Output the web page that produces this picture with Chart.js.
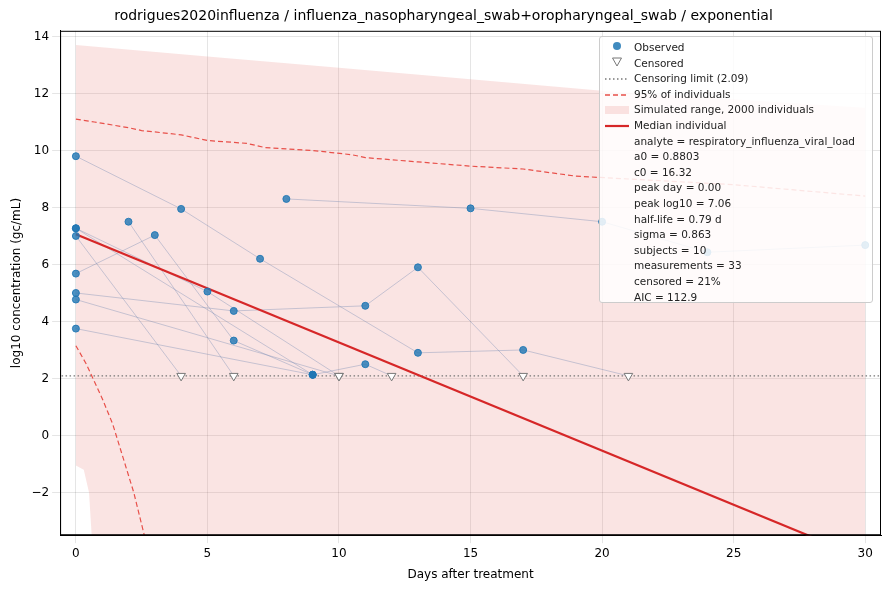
<!DOCTYPE html>
<html>
<head>
<meta charset="utf-8">
<script src="https://cdn.jsdelivr.net/npm/chart.js@4"></script>
<style>
  body { margin: 0; background: #fff; font-family: "DejaVu Sans", sans-serif; }
  #wrap { position: relative; width: 889px; height: 590px; }
  #legend { position: absolute; left: 599px; top: 36px; width: 274px; height: 267px; background: rgba(255,255,255,0.85);
    border: 1px solid #ccc; border-radius: 3px; font-size: 10.5px; color: #222; box-sizing: border-box; padding: 3px 0 0 0; }
  #legend div { height: 15.6px; line-height: 15.6px; white-space: nowrap; }
  #legend .k { display: inline-block; width: 34px; text-align: center; vertical-align: middle; }
</style>
</head>
<body>
<div id="wrap">
<canvas id="chart" width="889" height="590"></canvas>
<div id="legend"></div>
</div>
<script>
// subjects: [day, log10, censored]
const subjects = [
  [[0, 9.8], [4, 7.95], [7, 6.2], [13, 2.9], [17, 3.0], [21, 2.09, 1]],
  [[8, 8.3], [15, 7.97], [20, 7.5], [24, 6.43], [30, 6.68]],
  [[2, 7.5], [6, 2.09, 1]],
  [[0, 5.68], [3, 7.03], [6, 3.33], [9, 2.13]],
  [[0, 7.27], [5, 5.05], [10, 2.09, 1]],
  [[0, 7.27], [9, 2.13], [11, 2.5], [12, 2.09, 1]],
  [[0, 7.0], [4, 2.09, 1]],
  [[0, 5.0], [6, 4.37], [11, 4.55], [13, 5.9], [17, 2.09, 1]],
  [[0, 4.77], [10, 2.09, 1]],
  [[0, 3.75], [9, 2.13]]
];
const censorLimit = 2.09;
const medianDays = [0, 30];
const medianVals = [7.06, -4.33];
const upperDays = [0, 0.7, 2, 2.5, 4, 5, 6.5, 7.2, 9, 10.5, 11, 13, 15, 17, 19, 21, 25, 30];
const upperVals = [11.1, 11.0, 10.8, 10.7, 10.55, 10.35, 10.25, 10.1, 10.0, 9.85, 9.75, 9.6, 9.45, 9.35, 9.1, 9.0, 8.8, 8.4];
const lowerDays = [0, 0.4, 1, 1.4, 1.7, 2.2, 2.6];
const lowerVals = [3.15, 2.5, 1.3, 0.4, -0.5, -2.0, -3.5];
const simTopDays = [0, 5, 10, 15, 20, 25, 30];
const simTopVals = [13.7, 13.3, 12.9, 12.5, 12.1, 11.8, 11.5];
const simBotDays = [0, 0.3, 0.5, 0.6, 0.65, 30];
const simBotVals = [-1.05, -1.2, -2.0, -3.5, -10, -10];

const xy = (d, v) => d.map((x, i) => ({x, y: v[i]}));
const observed = [], censored = [];
subjects.forEach(s => s.forEach(p => (p[2] ? censored : observed).push({x: p[0], y: p[1]})));

const datasets = [];
datasets.push({type: 'line', data: xy(simBotDays, simBotVals), borderWidth: 0, pointRadius: 0, fill: false, order: 10});
datasets.push({type: 'line', data: xy(simTopDays, simTopVals), borderWidth: 0, pointRadius: 0,
  backgroundColor: 'rgba(231,120,115,0.2)', fill: 0, order: 9});
subjects.forEach(s => datasets.push({type: 'line', data: s.map(p => ({x: p[0], y: p[1]})),
  borderColor: 'rgba(120,140,180,0.4)', borderWidth: 1, pointRadius: 0, order: 8}));
datasets.push({type: 'line', data: [{x: -1, y: censorLimit}, {x: 31, y: censorLimit}], borderColor: '#777',
  borderWidth: 1.3, borderDash: [1.5, 2.5], pointRadius: 0, order: 7});
datasets.push({type: 'line', data: xy(upperDays, upperVals), borderColor: '#e8504a', borderWidth: 1.2, borderDash: [5, 3], pointRadius: 0, order: 6});
datasets.push({type: 'line', data: xy(lowerDays, lowerVals), borderColor: '#e8504a', borderWidth: 1.2, borderDash: [5, 3], pointRadius: 0, order: 6});
datasets.push({type: 'line', data: xy(medianDays, medianVals), borderColor: '#d62728', borderWidth: 2.2, pointRadius: 0, order: 5});
datasets.push({type: 'scatter', data: observed, backgroundColor: 'rgba(31,119,180,0.8)', borderColor: 'rgba(31,119,180,0.9)', pointRadius: 3.5, order: 2});
datasets.push({type: 'scatter', data: censored, pointStyle: 'triangle', rotation: 180, backgroundColor: '#fff', borderColor: '#777', borderWidth: 1, pointRadius: 5, order: 1});

// full frame round the plot area, like matplotlib
const frame = {
  id: 'frame',
  afterDraw(c) {
    const a = c.chartArea, ctx = c.ctx;
    ctx.save(); ctx.strokeStyle = '#000'; ctx.lineWidth = 1;
    ctx.strokeRect(a.left + 0.5, a.top + 0.5, a.right - a.left - 1, a.bottom - a.top - 1);
    ctx.restore();
  }
};

new Chart(document.getElementById('chart'), {
  data: {datasets},
  plugins: [frame],
  options: {
    responsive: false, animation: false,
    layout: {padding: {left: 6, right: 8, top: 0, bottom: 4}},
    plugins: {
      legend: {display: false}, tooltip: {enabled: false},
      title: {display: true, text: 'rodrigues2020influenza / influenza_nasopharyngeal_swab+oropharyngeal_swab / exponential',
        color: '#000', font: {size: 14, weight: 'normal', family: 'DejaVu Sans'}, padding: {top: 8, bottom: 6}}
    },
    scales: {
      x: {type: 'linear', min: -0.6, max: 30.6,
        ticks: {color: '#000', font: {size: 12, family: 'DejaVu Sans'}},
        afterBuildTicks: a => { a.ticks = [0, 5, 10, 15, 20, 25, 30].map(value => ({value})); },
        grid: {color: 'rgba(0,0,0,0.1)'}, border: {color: '#000'},
        title: {display: true, text: 'Days after treatment', color: '#000', font: {size: 12, family: 'DejaVu Sans'}}},
      y: {min: -3.5, max: 14.2,
        afterBuildTicks: a => { a.ticks = [-2, 0, 2, 4, 6, 8, 10, 12, 14].map(value => ({value})); },
        ticks: {color: '#000', font: {size: 12, family: 'DejaVu Sans'}, callback: v => v < 0 ? '\u2212' + (-v) : v},
        grid: {color: 'rgba(0,0,0,0.1)'}, border: {color: '#000'},
        title: {display: true, text: 'log10 concentration (gc/mL)', color: '#000', font: {size: 12, family: 'DejaVu Sans'}}}
    }
  }
});

const legendItems = [
  ['<svg width="12" height="12"><circle cx="6" cy="6" r="4" fill="rgba(31,119,180,0.85)"/></svg>', 'Observed'],
  ['<svg width="12" height="12"><polygon points="1.5,2 10.5,2 6,10" fill="#fff" stroke="#777"/></svg>', 'Censored'],
  ['<svg width="26" height="6"><line x1="1" y1="3" x2="25" y2="3" stroke="#777" stroke-width="1.3" stroke-dasharray="1.5,2.5"/></svg>', 'Censoring limit (2.09)'],
  ['<svg width="26" height="6"><line x1="1" y1="3" x2="25" y2="3" stroke="#e8504a" stroke-width="1.3" stroke-dasharray="5,3"/></svg>', '95% of individuals'],
  ['<svg width="26" height="8"><rect x="1" y="0" width="24" height="8" fill="rgba(231,120,115,0.2)"/></svg>', 'Simulated range, 2000 individuals'],
  ['<svg width="26" height="6"><line x1="1" y1="3" x2="25" y2="3" stroke="#d62728" stroke-width="2.2"/></svg>', 'Median individual'],
  ['', 'analyte = respiratory_influenza_viral_load'], ['', 'a0 = 0.8803'], ['', 'c0 = 16.32'],
  ['', 'peak day = 0.00'], ['', 'peak log10 = 7.06'], ['', 'half-life = 0.79 d'], ['', 'sigma = 0.863'],
  ['', 'subjects = 10'], ['', 'measurements = 33'], ['', 'censored = 21%'], ['', 'AIC = 112.9']
];
document.getElementById('legend').innerHTML = legendItems.map(i => '<div><span class="k">' + i[0] + '</span>' + i[1] + '</div>').join('');
</script>
</body>
</html>
